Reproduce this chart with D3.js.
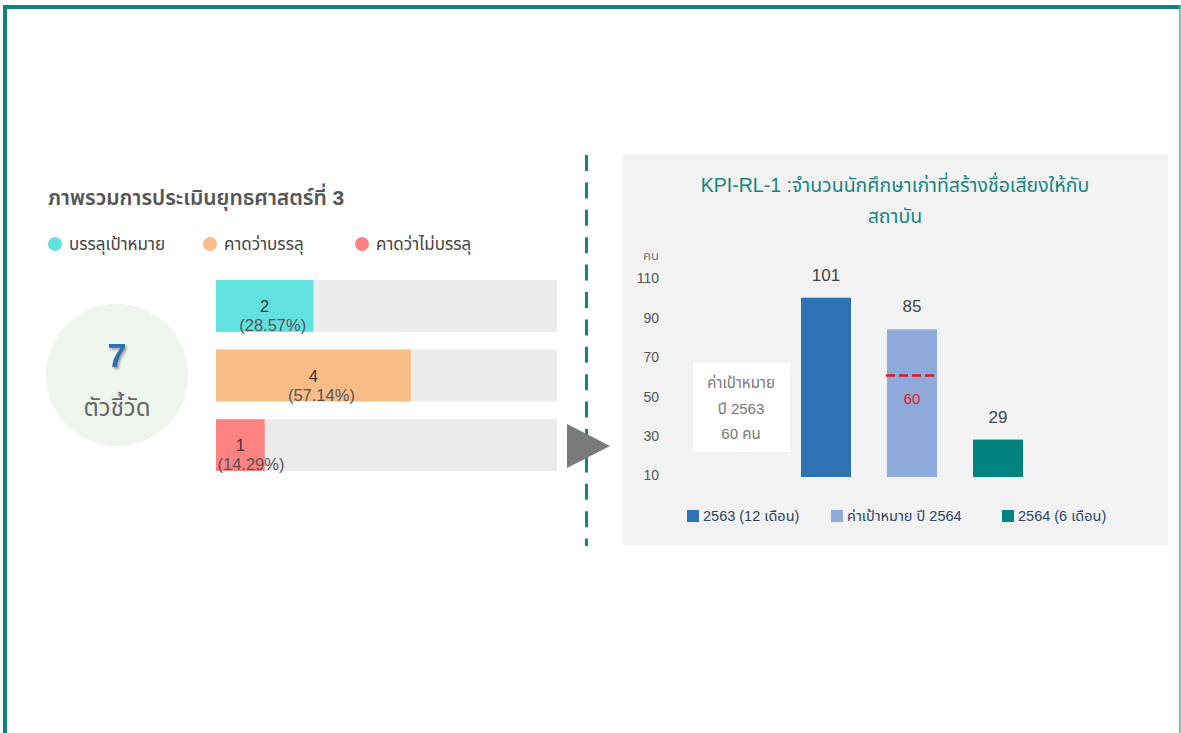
<!DOCTYPE html>
<html><head><meta charset="utf-8">
<script src="https://cdn.jsdelivr.net/npm/d3@7"></script>
<style>body{margin:0;background:#fff;}svg{display:block;}</style>
</head><body>
<script>
// ---- data ----
const summaryTitle = "ภาพรวมการประเมินยุทธศาสตร์ที่ 3";
const statusLabels = ["บรรลุเป้าหมาย", "คาดว่าบรรลุ", "คาดว่าไม่บรรลุ"];
const statusCounts = [2, 4, 1];
const statusPercents = ["(28.57%)", "(57.14%)", "(14.29%)"];
const statusColors = ["#62e1e1", "#f8bd86", "#fe8282"];
const totalIndicators = 7;
const totalLabel = "ตัวชี้วัด";

const kpiTitle = ["KPI-RL-1 :จำนวนนักศึกษาเก่าที่สร้างชื่อเสียงให้กับ", "สถาบัน"];
const kpiCategories = ["2563 (12 เดือน)", "ค่าเป้าหมาย  ปี 2564", "2564 (6 เดือน)"];
const kpiValues = [101, 85, 29];
const kpiColors = ["#2e74b5", "#8eaadb", "#00827f"];
const kpiTarget2564 = 60;
const yTicks = [10, 30, 50, 70, 90, 110];
const yUnit = "คน";
const targetNote = ["ค่าเป้าหมาย", "ปี 2563", "60 คน"];

const W = 1181, H = 733;
const svg = d3.select("body").append("svg").attr("width", W).attr("height", H);
const font = "'Liberation Sans','Noto Sans Thai','Noto Sans',Roboto,sans-serif";

// frame
svg.append("rect").attr("x", 5.5).attr("y", 7).attr("width", 1174).attr("height", 740)
  .attr("fill", "none").attr("stroke", "#8fd0cd").attr("stroke-width", 1);
svg.append("line").attr("x1", 3).attr("x2", 1181).attr("y1", 7).attr("y2", 7).attr("stroke", "#0e8480").attr("stroke-width", 4);
svg.append("line").attr("x1", 5).attr("x2", 5).attr("y1", 5).attr("y2", 733).attr("stroke", "#0e8480").attr("stroke-width", 4);
svg.append("line").attr("x1", 1180).attr("x2", 1180).attr("y1", 5).attr("y2", 733).attr("stroke", "#5fb8b4").attr("stroke-width", 1.5);

// ---- left summary ----
svg.append("text").attr("x", 48).attr("y", 205).text(summaryTitle)
  .attr("font-family", font).attr("font-size", 21).attr("font-weight", 600).attr("fill", "#555");

const legX = [55, 210, 362];
statusLabels.forEach((l, i) => {
  svg.append("circle").attr("cx", legX[i]).attr("cy", 244).attr("r", 7).attr("fill", statusColors[i]);
  svg.append("text").attr("x", legX[i] + 14).attr("y", 250).text(l)
    .attr("font-family", font).attr("font-size", 17).attr("fill", "#444");
});

svg.append("circle").attr("cx", 117).attr("cy", 375).attr("r", 71).attr("fill", "#eef5ec");
const defs = svg.append("defs");
const f = defs.append("filter").attr("id", "sh").attr("x", "-50%").attr("y", "-50%").attr("width", "200%").attr("height", "200%");
f.append("feDropShadow").attr("dx", 1.5).attr("dy", 2).attr("stdDeviation", 1).attr("flood-color", "#000").attr("flood-opacity", 0.35);
svg.append("text").attr("x", 117).attr("y", 367).attr("text-anchor", "middle").text(totalIndicators)
  .attr("font-family", font).attr("font-size", 34).attr("font-weight", 700).attr("fill", "#2e6eb3").attr("filter", "url(#sh)");
svg.append("text").attr("x", 117).attr("y", 416).attr("text-anchor", "middle").text(totalLabel)
  .attr("font-family", font).attr("font-size", 24).attr("fill", "#666");

const total = d3.sum(statusCounts);
const xs = d3.scaleLinear().domain([0, total]).range([216, 557]);
const ys = d3.scaleBand().domain(d3.range(statusCounts.length)).range([280, 471]).paddingInner(0.255);
statusCounts.forEach((c, i) => {
  const y0 = ys(i), bh = ys.bandwidth();
  svg.append("rect").attr("x", xs(0)).attr("y", y0).attr("width", xs(total) - xs(0)).attr("height", bh).attr("fill", "#ebebeb");
  svg.append("rect").attr("x", xs(0)).attr("y", y0).attr("width", xs(c) - xs(0)).attr("height", bh).attr("fill", statusColors[i]);
  const cx = (xs(0) + xs(c)) / 2;
  svg.append("text").attr("x", cx).attr("y", y0 + 32).attr("text-anchor", "middle").text(c)
    .attr("font-family", "'Liberation Sans',Arial,sans-serif").attr("font-size", 16.5).attr("fill", "#333");
  const pw = 70;
  const px = Math.max(cx + 8, xs(0) + pw / 2);
  svg.append("text").attr("x", px).attr("y", y0 + 51).attr("text-anchor", "middle").text(statusPercents[i])
    .attr("font-family", "'Liberation Sans',Arial,sans-serif").attr("font-size", 16.5).attr("fill", "#555");
});

// divider + arrow
svg.append("line").attr("x1", 586.5).attr("x2", 586.5).attr("y1", 155).attr("y2", 546)
  .attr("stroke", "#14857f").attr("stroke-width", 3).attr("stroke-dasharray", "16,11.4");
svg.append("path").attr("d", "M567,424 L610,446 L567,468 Z").attr("fill", "#7a7a7a");

// ---- right KPI chart ----
svg.append("rect").attr("x", 623).attr("y", 155).attr("width", 545).attr("height", 390).attr("fill", "#f2f2f2");
kpiTitle.forEach((t, i) => {
  svg.append("text").attr("x", 895).attr("y", 192 + i * 31).attr("text-anchor", "middle").text(t)
    .attr("font-family", font).attr("font-size", 19.5).attr("fill", "#14857f");
});

const y = d3.scaleLinear().domain([10, 110]).range([477, 280]);
const x = d3.scaleBand().domain(kpiCategories).range([801, 1023]).paddingInner(0.4186).paddingOuter(0);

const yAxis = svg.append("g").attr("transform", "translate(659,0)")
  .call(d3.axisLeft(y).tickValues(yTicks).tickSize(0).tickPadding(0));
yAxis.select(".domain").remove();
yAxis.selectAll("text").attr("font-family", font).attr("font-size", 14).attr("fill", "#555").attr("dy", "0.2em");
svg.append("text").attr("x", 651).attr("y", 260).attr("text-anchor", "middle").text(yUnit)
  .attr("font-family", font).attr("font-size", 13).attr("fill", "#777");

svg.selectAll(".kbar").data(kpiValues).enter().append("rect")
  .attr("x", (d, i) => x(kpiCategories[i])).attr("y", d => y(d))
  .attr("width", x.bandwidth()).attr("height", d => y(10) - y(d))
  .attr("fill", (d, i) => kpiColors[i]);
svg.selectAll(".klab").data(kpiValues).enter().append("text")
  .attr("x", (d, i) => x(kpiCategories[i]) + x.bandwidth() / 2).attr("y", d => y(d) - 17)
  .attr("text-anchor", "middle").text(d => d)
  .attr("font-family", font).attr("font-size", 17).attr("fill", "#444");

// target line on 2nd bar
const tb = x(kpiCategories[1]);
svg.append("line").attr("x1", tb - 1).attr("x2", tb + x.bandwidth()).attr("y1", y(kpiTarget2564) - 3).attr("y2", y(kpiTarget2564) - 3)
  .attr("stroke", "#e8141c").attr("stroke-width", 2.5).attr("stroke-dasharray", "9,4");
svg.append("text").attr("x", tb + x.bandwidth() / 2).attr("y", y(kpiTarget2564) + 25).attr("text-anchor", "middle")
  .text(kpiTarget2564).attr("font-family", font).attr("font-size", 15).attr("fill", "#e8141c");

// target note box
svg.append("rect").attr("x", 693).attr("y", 363).attr("width", 97).attr("height", 89).attr("fill", "#fff");
targetNote.forEach((t, i) => {
  svg.append("text").attr("x", 741).attr("y", 388 + i * 25.5).attr("text-anchor", "middle").text(t)
    .attr("font-family", font).attr("font-size", 15).attr("fill", "#777");
});

// legend
const lgX = [687, 831, 1002];
kpiCategories.forEach((c, i) => {
  svg.append("rect").attr("x", lgX[i]).attr("y", 510).attr("width", 12).attr("height", 12).attr("fill", kpiColors[i]);
  svg.append("text").attr("x", lgX[i] + 16).attr("y", 521).text(c)
    .attr("font-family", font).attr("font-size", 14.5).attr("fill", "#2a4468");
});
</script>
</body></html>
